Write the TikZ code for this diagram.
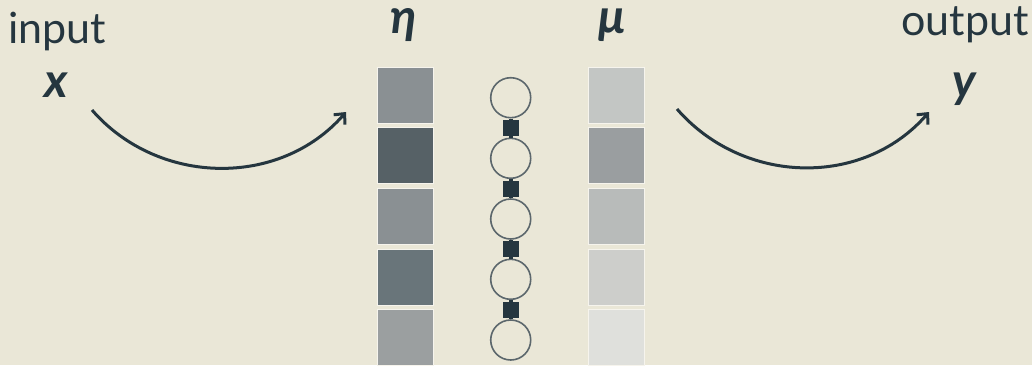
\documentclass[tikz,border=0pt]{standalone}
\usepackage{fontspec}
\setmainfont{Lato}
\usetikzlibrary{arrows.meta}
\definecolor{bg}{HTML}{EAE7D7}
\definecolor{ink}{HTML}{25363F}
\definecolor{ringc}{HTML}{5C676C}
\definecolor{ea}{HTML}{8A9093}
\definecolor{eb}{HTML}{566166}
\definecolor{ec}{HTML}{8A9093}
\definecolor{ed}{HTML}{69757A}
\definecolor{ee}{HTML}{9B9FA0}
\definecolor{ma}{HTML}{C3C6C4}
\definecolor{mb}{HTML}{9A9EA0}
\definecolor{mc}{HTML}{B8BBBA}
\definecolor{md}{HTML}{CDCECB}
\definecolor{me}{HTML}{DFE0DC}
\tikzset{
  word/.style={text=ink, inner sep=0pt, font=\fontsize{43}{46}\selectfont},
  sym/.style={text=ink, inner sep=0pt, font=\fontsize{48}{50}\selectfont\bfseries\itshape},
  cell/.style={draw=white!55!bg, line width=1pt, minimum size=56pt, inner sep=0pt},
  ring/.style={circle, draw=ringc, line width=1.6pt, minimum size=40pt, inner sep=0pt},
  factor/.style={fill=ink, minimum size=16pt, inner sep=0pt},
  link/.style={draw=ink, line width=4pt},
  flow/.style={draw=ink, line width=3pt, -{Straight Barb[length=8pt,width=15pt,line width=3pt]}}
}
\begin{document}
\begin{tikzpicture}[x=1pt,y=-1pt]
\fill[bg] (0,0) rectangle (1032,365);
\useasboundingbox (0,0) rectangle (1032,365);
% labels
\node[word, anchor=base west] (inp) at (8,43) {input};
\node[sym, anchor=base west] (xs) at (44,97) {x};
\node[word, anchor=base east] (outp) at (1029,35) {output};
\node[sym, anchor=base west] (ys) at (952,97) {y};
\node[sym, anchor=base] (eta) at (404,33) {η};
\node[sym, anchor=base] (mu) at (612,33) {μ};
% eta column
\node[cell, fill=ea] (e1) at (405,95) {};
\node[cell, fill=eb] (e2) at (405,155.7) {};
\node[cell, fill=ec] (e3) at (405,216.3) {};
\node[cell, fill=ed] (e4) at (405,277) {};
\node[cell, fill=ee] (e5) at (405,337.7) {};
% mu column
\node[cell, fill=ma] (m1) at (616,95) {};
\node[cell, fill=mb] (m2) at (616,155.7) {};
\node[cell, fill=mc] (m3) at (616,216.3) {};
\node[cell, fill=md] (m4) at (616,277) {};
\node[cell, fill=me] (m5) at (616,337.7) {};
% chain
\node[ring] (c1) at (510.7,97.7) {};
\node[ring] (c2) at (510.7,158.3) {};
\node[ring] (c3) at (510.7,219) {};
\node[ring] (c4) at (510.7,279.3) {};
\node[ring] (c5) at (510.7,340) {};
\draw[link] (c1.south) -- (c2.north);
\draw[link] (c2.south) -- (c3.north);
\draw[link] (c3.south) -- (c4.north);
\draw[link] (c4.south) -- (c5.north);
\node[factor] (f1) at (510.7,128.3) {};
\node[factor] (f2) at (510.7,189.3) {};
\node[factor] (f3) at (510.7,249.3) {};
\node[factor] (f4) at (510.7,310) {};
% arrows
\coordinate (a0) at (92,110);
\coordinate (a1) at (346,112);
\coordinate (b0) at (677,109);
\coordinate (b1) at (929,112);
\draw[flow] (a0) .. controls (158,186) and (280,188) .. (a1);
\draw[flow] (b0) .. controls (743,185) and (863,188) .. (b1);
\end{tikzpicture}
\end{document}
